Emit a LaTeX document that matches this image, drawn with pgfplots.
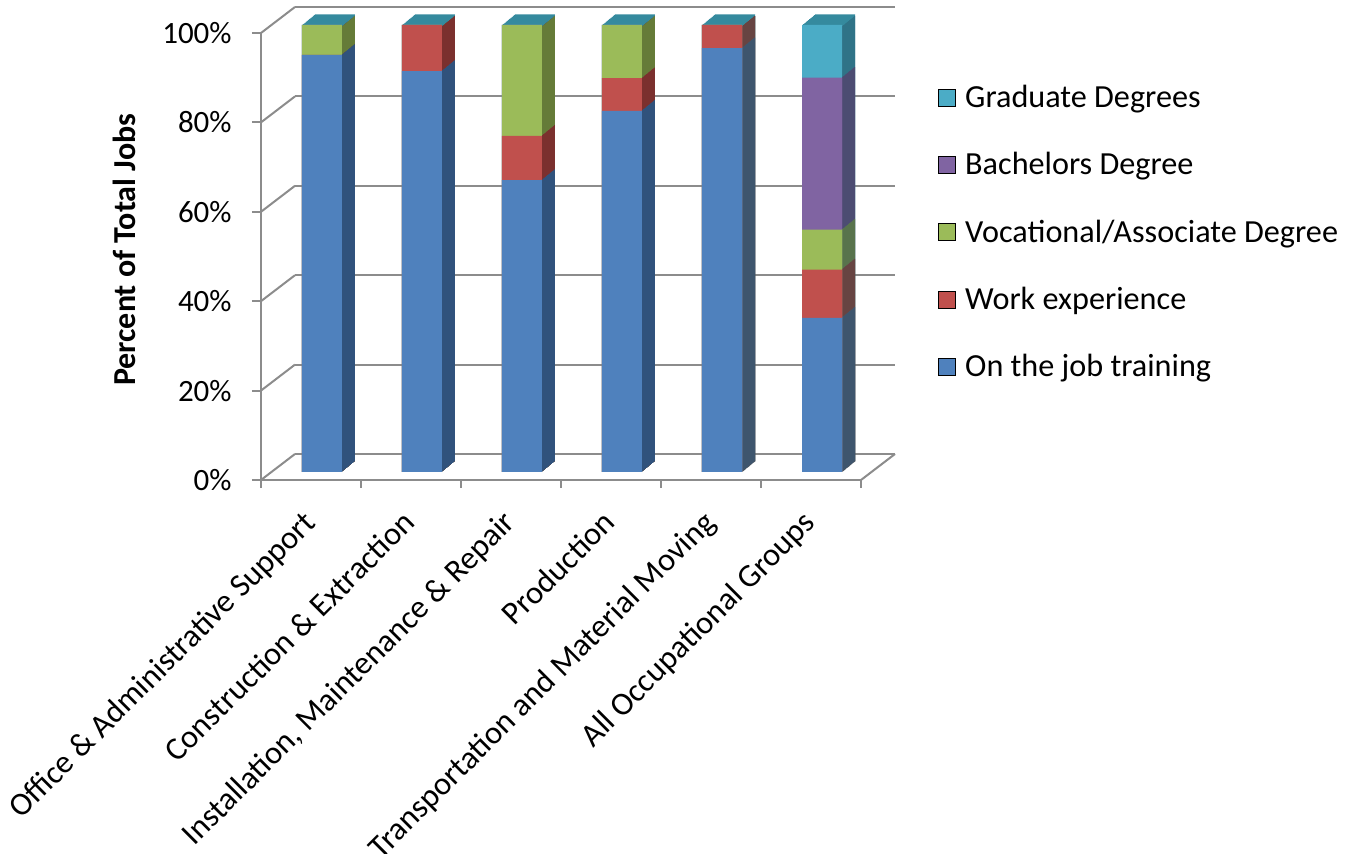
\documentclass[border=0pt]{standalone}
\usepackage{pgfplots}
\pgfplotsset{compat=1.18}
\usepackage{pgfplotstable}
\usepackage{fontspec}
\setmainfont{Carlito}

\definecolor{cBlue}{HTML}{4F81BD}
\definecolor{cRed}{HTML}{C0504D}
\definecolor{cGreen}{HTML}{9BBB59}
\definecolor{cPurple}{HTML}{8064A2}
\definecolor{cCyan}{HTML}{4BACC6}
\definecolor{dBlue}{HTML}{30527C}
\definecolor{dRed}{HTML}{7B302E}
\definecolor{dGreen}{HTML}{657B38}
\definecolor{dPurple}{HTML}{54406C}
\definecolor{dCyan}{HTML}{2F7185}
\definecolor{cTop}{HTML}{358A9E}
\definecolor{gridc}{HTML}{8C8C8C}

\pgfplotstableread{
x ojt work voc bach grad
0 93.3 0 6.7 0 0
1 89.7 10.3 0 0 0
2 65.3 9.9 24.8 0 0
3 80.8 7.3 11.9 0 0
4 94.8 5.2 0 0 0
5 34.5 10.8 8.9 34.0 11.8
}\data
\pgfplotstablecreatecol[create col/expr={\thisrow{ojt}+\thisrow{work}}]{c2}\data
\pgfplotstablecreatecol[create col/expr={\thisrow{c2}+\thisrow{voc}}]{c3}\data
\pgfplotstablecreatecol[create col/expr={\thisrow{c3}+\thisrow{bach}}]{c4}\data
\pgfplotstablecreatecol[create col/expr={\thisrow{c4}+\thisrow{grad}}]{c5}\data

\newcommand{\lblfont}{\fontsize{15.5}{18}\selectfont}
\newcommand{\xlblfont}{\fontsize{16.2}{19}\selectfont}
\newcommand{\legfont}{\fontsize{16.1}{19}\selectfont}

\begin{document}
\begin{tikzpicture}
\begin{axis}[
  name=ax,
  x=50pt, y=2.235pt,
  xmin=-0.5, xmax=5.5, ymin=0, ymax=100,
  axis lines*=left,
  axis line style={gridc, line width=1pt},
  tick style={gridc, line width=1pt},
  tick align=outside,
  major tick length=4.5pt,
  minor tick length=4pt,
  ytick={0,20,...,100},
  yticklabel={\pgfmathprintnumber{\tick}\%},
  /pgf/number format/assume math mode=true,
  xtick={0,...,5},
  major x tick style={draw=none},
  minor xtick={-0.5,0.5,...,5.5},
  xticklabels={Office \& Administrative Support, Construction \& Extraction, {Installation, Maintenance \& Repair}, Production, Transportation and Material Moving, All Occupational Groups},
  xticklabel style={xshift=-5pt, yshift=-9.5pt, rotate=45, anchor=north east, inner sep=0pt, font=\xlblfont},
  yticklabel style={font=\lblfont, inner sep=0pt, xshift=-10pt},
  ylabel={\bfseries Percent of Total Jobs},
  ylabel style={font=\fontsize{16}{19}\selectfont, at={(axis description cs:-0.227,0.515)}, anchor=center},
  ybar, bar width=20pt,
  legend image code/.code={\fill[#1] (0pt,-4.25pt) rectangle (8.5pt,4.25pt);},
  legend style={draw=none, fill=none, at={(axis description cs:1,1)}, anchor=north west,
    xshift=38.5pt, yshift=-24pt, font=\legfont, row sep=16.9pt, inner sep=0pt,
    /tikz/every odd column/.append style={column sep=2.5pt}},
  legend cell align=left,
  clip=false,
]
% back wall and left wall gridlines
\pgfplotsinvokeforeach{0,20,...,100}{
  \draw[gridc, line width=1pt] ([xshift=17pt,yshift=13pt]axis cs:-0.5,#1) -- ([xshift=17pt,yshift=13pt]axis cs:5.5,#1);
  \draw[gridc, line width=1pt] (axis cs:-0.5,#1) -- ([xshift=17pt,yshift=13pt]axis cs:-0.5,#1);
}
\draw[gridc, line width=1pt] (axis cs:5.5,0) -- ([xshift=17pt,yshift=13pt]axis cs:5.5,0);

% 3D depth: swept darker copies
\pgfplotsinvokeforeach{13,12,...,1}{
  \addplot[forget plot, draw=none, fill=cTop, bar shift=0pt, xshift=5.5pt+#1*0.5pt, yshift=4pt+#1*0.41pt] table[x=x, y=c5]{\data};
  \addplot[forget plot, draw=none, fill=dCyan, bar shift=0pt, xshift=5.5pt+#1*0.5pt, yshift=4pt+#1*0.41pt] table[x=x, y expr={min(\thisrow{c5},99.6)}]{\data};
  \addplot[forget plot, draw=none, fill=dPurple, bar shift=0pt, xshift=5.5pt+#1*0.5pt, yshift=4pt+#1*0.41pt] table[x=x, y expr={min(\thisrow{c4},99.6)}]{\data};
  \addplot[forget plot, draw=none, fill=dGreen, bar shift=0pt, xshift=5.5pt+#1*0.5pt, yshift=4pt+#1*0.41pt] table[x=x, y expr={min(\thisrow{c3},99.6)}]{\data};
  \addplot[forget plot, draw=none, fill=dRed, bar shift=0pt, xshift=5.5pt+#1*0.5pt, yshift=4pt+#1*0.41pt] table[x=x, y expr={min(\thisrow{c2},99.6)}]{\data};
  \addplot[forget plot, draw=none, fill=dBlue, bar shift=0pt, xshift=5.5pt+#1*0.5pt, yshift=4pt+#1*0.41pt] table[x=x, y expr={min(\thisrow{ojt},99.6)}]{\data};
}
% front faces
\addplot[forget plot, draw=none, fill=cCyan, bar shift=0pt, xshift=5.5pt, yshift=4pt] table[x=x, y=c5]{\data};
\addplot[forget plot, draw=none, fill=cPurple, bar shift=0pt, xshift=5.5pt, yshift=4pt] table[x=x, y=c4]{\data};
\addplot[forget plot, draw=none, fill=cGreen, bar shift=0pt, xshift=5.5pt, yshift=4pt] table[x=x, y=c3]{\data};
\addplot[forget plot, draw=none, fill=cRed, bar shift=0pt, xshift=5.5pt, yshift=4pt] table[x=x, y=c2]{\data};
\addplot[forget plot, draw=none, fill=cBlue, bar shift=0pt, xshift=5.5pt, yshift=4pt] table[x=x, y=ojt]{\data};

\addlegendimage{fill=cCyan}\addlegendentry{Graduate Degrees}
\addlegendimage{fill=cPurple}\addlegendentry{Bachelors Degree}
\addlegendimage{fill=cGreen}\addlegendentry{Vocational/Associate Degree}
\addlegendimage{fill=cRed}\addlegendentry{Work experience}
\addlegendimage{fill=cBlue}\addlegendentry{On the job training}
\end{axis}
\pgfresetboundingbox
\path ([xshift=-130.5pt,yshift=-187pt]ax.south west) rectangle ([xshift=-130.5pt+678pt,yshift=-187pt+427pt]ax.south west);
\end{tikzpicture}
\end{document}
